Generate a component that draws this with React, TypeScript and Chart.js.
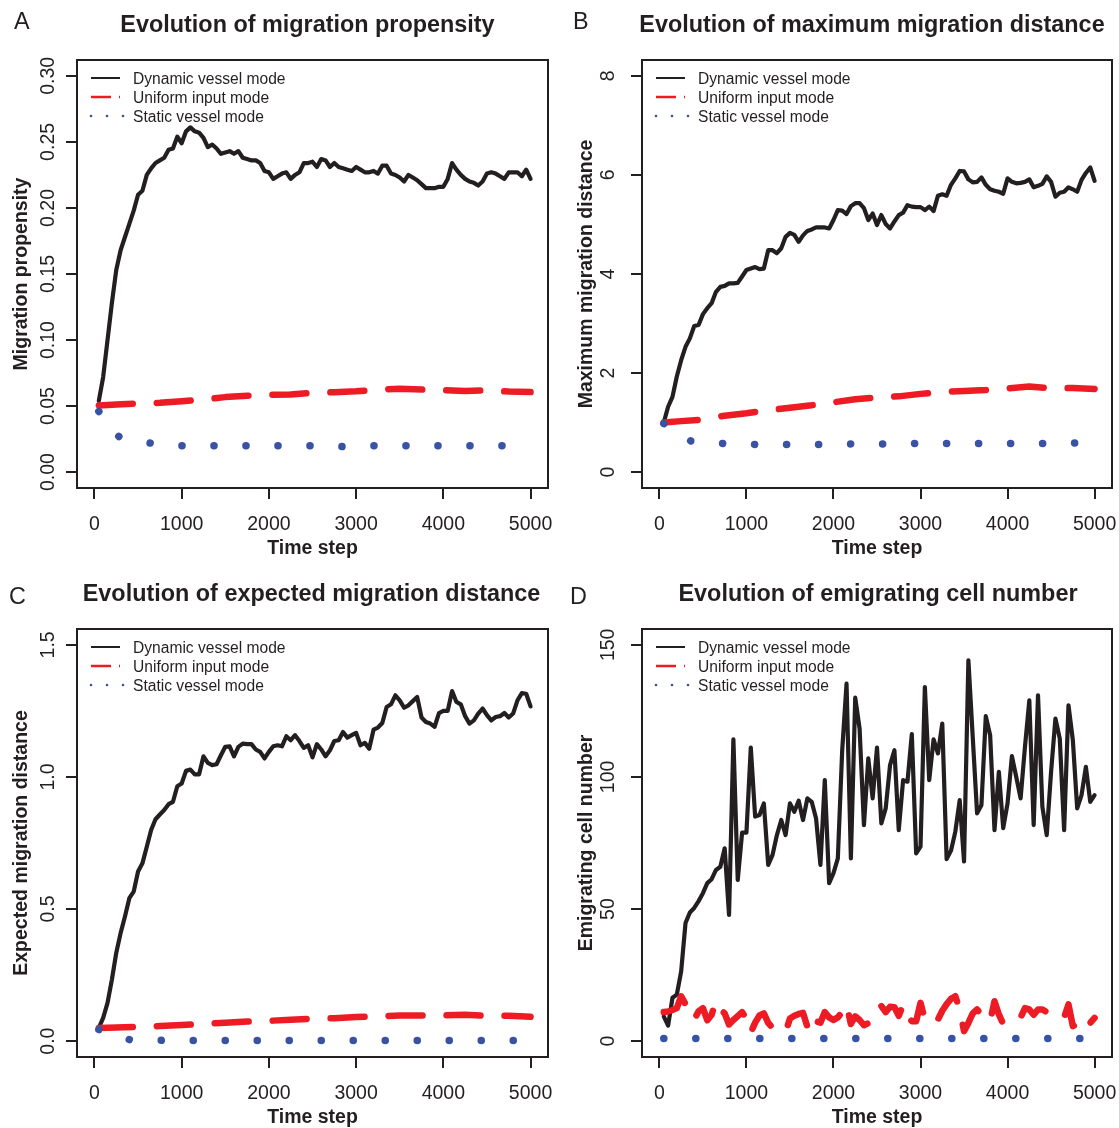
import React, { useEffect, useRef } from "react";
import { Chart, registerables } from "chart.js";

Chart.register(...registerables);

// ---------------- data ----------------
const TIME_STEPS = [50,100,150,200,250,300,350,400,450,500,550,600,650,700,750,800,850,900,950,1000,1050,1100,1150,1200,1250,1300,1350,1400,1450,1500,1550,1600,1650,1700,1750,1800,1850,1900,1950,2000,2050,2100,2150,2200,2250,2300,2350,2400,2450,2500,2550,2600,2650,2700,2750,2800,2850,2900,2950,3000,3050,3100,3150,3200,3250,3300,3350,3400,3450,3500,3550,3600,3650,3700,3750,3800,3850,3900,3950,4000,4050,4100,4150,4200,4250,4300,4350,4400,4450,4500,4550,4600,4650,4700,4750,4800,4850,4900,4950,5000];
const SPARSE_STEPS = [50,250,500,750,1000,1250,1500,1750,2000,2250,2500,2750,3000,3250,3500,3750,4000,4250,4500,4750,5000];
const X_TICKS = [0,1000,2000,3000,4000,5000];
const SERIES_LABELS = ["Dynamic vessel mode", "Uniform input mode", "Static vessel mode"];

// A: migration propensity
const propDynamic = [
  0.054,0.072,0.100,0.128,0.153,0.168,0.178,0.188,0.198,0.210,
  0.213,0.225,0.230,0.234,0.236,0.238,0.244,0.245,0.254,0.249,
  0.258,0.261,0.258,0.257,0.253,0.246,0.248,0.245,0.241,0.242,
  0.243,0.241,0.243,0.238,0.237,0.236,0.236,0.234,0.228,0.227,
  0.222,0.224,0.226,0.227,0.222,0.225,0.227,0.234,0.234,0.235,
  0.231,0.237,0.236,0.231,0.234,0.231,0.230,0.229,0.228,0.231,
  0.229,0.227,0.227,0.228,0.226,0.232,0.232,0.226,0.225,0.223,
  0.220,0.225,0.223,0.221,0.218,0.215,0.215,0.215,0.216,0.216,
  0.222,0.234,0.229,0.225,0.222,0.220,0.219,0.217,0.220,0.226,
  0.227,0.226,0.224,0.222,0.227,0.227,0.227,0.224,0.229,0.222];
const propUniform = [0.0505,0.0512,0.052,0.0525,0.0536,0.055,0.0568,0.0578,0.0585,0.0588,0.060,0.0605,0.0612,0.0625,0.0632,0.0625,0.062,0.0615,0.0619,0.061,0.0606];
const propStaticSteps = [50,280,640,1000,1500,2000,2500,2850,3200,4000,5000];
const propStatic = [0.046,0.027,0.022,0.020,0.020,0.020,0.020,0.0193,0.020,0.020,0.020];

// B: maximum migration distance
const maxDynamic = [
  1.00,1.32,1.52,1.93,2.26,2.53,2.70,2.95,2.97,3.19,
  3.31,3.41,3.64,3.74,3.76,3.81,3.81,3.82,3.95,4.08,
  4.11,4.14,4.10,4.11,4.48,4.48,4.42,4.52,4.75,4.83,
  4.79,4.65,4.78,4.87,4.90,4.94,4.94,4.94,4.92,5.09,
  5.29,5.28,5.21,5.37,5.43,5.43,5.33,5.09,5.22,4.99,
  5.19,5.01,4.92,5.06,5.19,5.24,5.39,5.36,5.35,5.35,
  5.29,5.36,5.27,5.58,5.61,5.58,5.80,5.93,6.08,6.07,
  5.91,5.85,5.86,5.95,5.80,5.71,5.68,5.66,5.62,5.93,
  5.86,5.83,5.84,5.86,5.91,5.75,5.78,5.82,5.97,5.86,
  5.56,5.64,5.66,5.75,5.71,5.66,5.90,6.04,6.15,5.88];
const maxUniform = [1.00,1.03,1.06,1.14,1.19,1.25,1.30,1.35,1.41,1.47,1.51,1.53,1.58,1.62,1.64,1.66,1.69,1.73,1.69,1.70,1.68];
const maxStaticSteps = [50,360,730,1100,1500,1850,2200,2600,2950,3300,3700,4050,4450,4800,5000];
const maxStatic = [0.98,0.63,0.58,0.56,0.56,0.56,0.57,0.57,0.58,0.58,0.58,0.58,0.58,0.59,0.59];

// C: expected migration distance
const expDynamic = [
  0.050,0.088,0.145,0.233,0.334,0.409,0.472,0.541,0.566,0.642,
  0.673,0.736,0.799,0.840,0.858,0.875,0.897,0.906,0.965,0.975,
  1.023,1.028,1.010,1.010,1.078,1.053,1.045,1.048,1.082,1.114,
  1.116,1.078,1.114,1.126,1.124,1.124,1.104,1.095,1.070,1.095,
  1.116,1.120,1.116,1.154,1.139,1.158,1.136,1.110,1.120,1.074,
  1.124,1.104,1.078,1.101,1.136,1.139,1.170,1.149,1.158,1.167,
  1.120,1.129,1.107,1.179,1.187,1.204,1.265,1.275,1.309,1.290,
  1.262,1.271,1.287,1.303,1.225,1.208,1.202,1.190,1.242,1.250,
  1.250,1.325,1.284,1.275,1.230,1.202,1.214,1.240,1.259,1.234,
  1.214,1.227,1.230,1.242,1.225,1.240,1.290,1.317,1.315,1.267];
const expUniform = [0.050,0.052,0.054,0.057,0.061,0.065,0.070,0.074,0.077,0.081,0.085,0.087,0.091,0.094,0.097,0.097,0.098,0.100,0.096,0.096,0.092];
const expStaticSteps = [50,400,750,1100,2000,3000,4000,5000];
const expStatic = [0.044,0.006,0.003,0.002,0.002,0.002,0.002,0.002];

// D: emigrating cell number
const emiDynamic = [
  9.4,5.9,16.4,17.6,26.4,44.7,48.7,50.4,53.0,56.0,
  59.8,61.3,64.8,66.0,73.0,47.8,114.2,61.0,78.9,78.9,
  111.1,85.0,85.6,90.0,66.7,70.5,78.0,83.7,78.0,90.0,
  86.8,91.0,83.7,91.9,90.6,84.3,66.7,98.8,59.8,63.6,
  69.2,110.0,135.3,69.2,130.0,118.3,81.8,107.0,91.9,111.1,
  82.4,88.1,104.5,110.1,79.9,98.8,98.2,116.2,71.1,73.6,
  134.0,98.8,114.2,108.9,120.2,68.9,72.1,79.3,91.2,68.0,
  144.1,115.1,86.2,89.4,123.0,115.8,79.9,101.9,80.6,90.0,
  107.9,100.0,91.9,111.4,129.0,81.8,130.9,88.7,78.0,101.9,
  122.1,114.5,79.9,127.1,114.0,88.1,93.1,103.8,90.6,93.1];
const emiUniform = [
  11.0,11.2,11.8,12.5,17.0,14.0,10.0,8.2,11.3,12.5,
  7.9,10.0,15.1,12.0,10.5,6.3,8.0,9.5,11.0,8.5,
  3.2,7.0,9.7,10.5,6.9,5.0,4.4,4.0,3.5,8.6,
  9.6,10.3,10.7,5.5,10.0,7.5,7.0,11.0,9.0,8.0,
  9.0,11.0,13.9,6.5,9.4,8.0,6.0,6.8,11.3,12.4,
  13.3,11.0,13.0,12.8,9.6,13.8,10.0,7.5,7.5,14.5,
  8.2,9.0,7.5,8.2,11.5,14.0,16.0,17.0,12.0,3.8,
  6.9,10.5,12.0,10.0,9.0,7.5,15.1,10.1,6.5,7.0,
  8.2,8.5,9.0,12.5,12.0,10.0,12.0,12.0,11.0,10.8,
  9.8,8.5,9.0,13.9,5.7,6.5,7.5,9.4,6.9,8.8];
const emiStaticSteps = [50,1000,2000,3000,4000,5000];
const emiStatic = [1,1,1,1,1,1];

// y axis ticks
const propTicks = [0,0.05,0.10,0.15,0.20,0.25,0.30];
const maxTicks = [0,2,4,6,8];
const expTicks = [0,0.5,1.0,1.5];
const emiTicks = [0,50,100,150];

// ---------------- styling ----------------
const FONT = '"Liberation Sans", Arial, Helvetica, sans-serif';
const INK = "#231f20";
const BLACK = "#231f20";
const RED = "#ed1c24";
const BLUE = "#3953a4";
const BASE = 19.5;

const pts = (xs: number[], ys: number[]) => xs.map((x, i) => ({ x, y: ys[i] }));

type Spec = {
  letter: string;
  title: string;
  yTitle: string;
  yMin: number;
  yMax: number;
  yTicks: number[];
  yDigits: number;
  dyn: number[];
  uniSteps: number[];
  uni: number[];
  staSteps: number[];
  sta: number[];
  box: { left: number; top: number; w: number; h: number };
  plot: { left: number; right: number; top: number; bottom: number };
  letterPos: [number, number];
  titleDx: number;
  yLabelGap: number;
};

const rPlotPlugin = {
  id: "rPlot",
  afterDraw(chart: any, _args: any, opts: any) {
    const spec: Spec = opts.spec;
    const { ctx, chartArea: a, scales } = chart;
    ctx.save();
    // box
    ctx.strokeStyle = INK;
    ctx.lineWidth = 2;
    ctx.strokeRect(a.left, a.top, a.right - a.left, a.bottom - a.top);
    ctx.fillStyle = INK;
    // y tick labels (rotated, like R)
    ctx.font = `${BASE}px ${FONT}`;
    const ys = scales.y;
    for (const t of ys.ticks) {
      const py = ys.getPixelForValue(t.value);
      ctx.save();
      ctx.translate(a.left - spec.yLabelGap, py);
      ctx.rotate(-Math.PI / 2);
      ctx.textAlign = "center";
      ctx.textBaseline = "alphabetic";
      ctx.fillText(Number(t.value).toFixed(spec.yDigits), 0, 0);
      ctx.restore();
    }
    // x tick labels
    const xs = scales.x;
    ctx.textAlign = "center";
    ctx.textBaseline = "alphabetic";
    for (const t of xs.ticks) {
      ctx.fillText(String(t.value), xs.getPixelForValue(t.value), a.bottom + 42);
    }
    // axis titles
    ctx.font = `bold ${BASE}px ${FONT}`;
    ctx.fillText("Time step", (a.left + a.right) / 2, a.bottom + 66);
    ctx.save();
    ctx.translate(a.left - 50, (a.top + a.bottom) / 2);
    ctx.rotate(-Math.PI / 2);
    ctx.fillText(spec.yTitle, 0, 0);
    ctx.restore();
    // main title
    ctx.font = `bold ${BASE * 1.2}px ${FONT}`;
    ctx.fillText(spec.title, (a.left + a.right) / 2 + spec.titleDx, a.top - 28);
    // panel letter
    ctx.font = `${BASE * 1.2}px ${FONT}`;
    ctx.textAlign = "left";
    ctx.fillText(spec.letter, spec.letterPos[0], spec.letterPos[1]);
    // legend
    const ds = chart.data.datasets;
    const lx0 = a.left + 14;
    const lx1 = a.left + 43;
    ctx.font = `${BASE * 0.8}px ${FONT}`;
    for (let i = 0; i < 3; i++) {
      const cy = a.top + 18 + i * 19;
      ctx.save();
      ctx.strokeStyle = ds[i].borderColor;
      ctx.fillStyle = ds[i].borderColor;
      if (i === 0) {
        ctx.lineWidth = 2;
        ctx.beginPath();
        ctx.moveTo(lx0, cy);
        ctx.lineTo(lx1, cy);
        ctx.stroke();
      } else if (i === 1) {
        ctx.lineWidth = 2.5;
        ctx.setLineDash([20, 8]);
        ctx.beginPath();
        ctx.moveTo(lx0, cy);
        ctx.lineTo(lx1, cy);
        ctx.stroke();
      } else {
        for (const dx of [0, 16, 32]) {
          ctx.beginPath();
          ctx.arc(lx0 + dx, cy, 1.3, 0, Math.PI * 2);
          ctx.fill();
        }
      }
      ctx.restore();
      ctx.fillStyle = INK;
      ctx.fillText(ds[i].label, a.left + 56, cy + 5.5);
    }
    ctx.restore();
  },
};

function makeConfig(spec: Spec): any {
  const { box, plot } = spec;
  return {
    type: "line",
    data: {
      datasets: [
        {
          label: SERIES_LABELS[0],
          data: pts(TIME_STEPS, spec.dyn),
          borderColor: BLACK,
          borderWidth: 4.2,
          borderJoinStyle: "round",
          borderCapStyle: "round",
          pointRadius: 0,
          tension: 0,
          order: 3,
        },
        {
          label: SERIES_LABELS[1],
          data: pts(spec.uniSteps, spec.uni),
          borderColor: RED,
          borderWidth: 6.5,
          borderDash: [34, 24],
          borderJoinStyle: "round",
          borderCapStyle: "round",
          pointRadius: 0,
          tension: 0,
          order: 2,
        },
        {
          label: SERIES_LABELS[2],
          data: pts(spec.staSteps, spec.sta),
          borderColor: BLUE,
          borderWidth: 7.5,
          borderDash: [0.1, 31.9],
          borderJoinStyle: "round",
          borderCapStyle: "round",
          pointRadius: 0,
          tension: 0,
          order: 1,
        },
      ],
    },
    options: {
      responsive: false,
      animation: false,
      devicePixelRatio: 1,
      layout: {
        padding: { left: 0, top: plot.top, right: box.w - plot.right, bottom: 0 },
      },
      plugins: {
        legend: { display: false },
        tooltip: { enabled: false },
        title: { display: false },
        rPlot: { spec },
      },
      scales: {
        x: {
          type: "linear",
          min: -200,
          max: 5200,
          afterBuildTicks: (s: any) => {
            s.ticks = X_TICKS.map((v) => ({ value: v }));
          },
          afterFit: (s: any) => {
            s.height = box.h - plot.bottom;
          },
          grid: { drawOnChartArea: false, drawTicks: true, tickLength: 11, color: INK, lineWidth: 2 },
          border: { display: false },
          ticks: { display: false, autoSkip: false },
        },
        y: {
          type: "linear",
          min: spec.yMin,
          max: spec.yMax,
          afterBuildTicks: (s: any) => {
            s.ticks = spec.yTicks.map((v) => ({ value: v }));
          },
          afterFit: (s: any) => {
            s.width = plot.left;
          },
          grid: { drawOnChartArea: false, drawTicks: true, tickLength: 11, color: INK, lineWidth: 2 },
          border: { display: false },
          ticks: { display: false, autoSkip: false },
        },
      },
    },
    plugins: [rPlotPlugin],
  };
}

const PANELS: Spec[] = [
  {
    letter: "A",
    title: "Evolution of migration propensity",
    yTitle: "Migration propensity",
    yMin: -0.012, yMax: 0.312, yTicks: propTicks, yDigits: 2,
    dyn: propDynamic, uniSteps: SPARSE_STEPS, uni: propUniform, staSteps: propStaticSteps, sta: propStatic,
    box: { left: 0, top: 0, w: 560, h: 569 },
    plot: { left: 77, right: 548, top: 60, bottom: 488 },
    letterPos: [14, 29],
    titleDx: -5,
    yLabelGap: 23,
  },
  {
    letter: "B",
    title: "Evolution of maximum migration distance",
    yTitle: "Maximum migration distance",
    yMin: -0.32, yMax: 8.32, yTicks: maxTicks, yDigits: 0,
    dyn: maxDynamic, uniSteps: SPARSE_STEPS, uni: maxUniform, staSteps: maxStaticSteps, sta: maxStatic,
    box: { left: 560, top: 0, w: 559, h: 569 },
    plot: { left: 82, right: 552, top: 60, bottom: 488 },
    letterPos: [13, 29],
    titleDx: -5,
    yLabelGap: 28,
  },
  {
    letter: "C",
    title: "Evolution of expected migration distance",
    yTitle: "Expected migration distance",
    yMin: -0.06, yMax: 1.56, yTicks: expTicks, yDigits: 1,
    dyn: expDynamic, uniSteps: SPARSE_STEPS, uni: expUniform, staSteps: expStaticSteps, sta: expStatic,
    box: { left: 0, top: 569, w: 560, h: 559 },
    plot: { left: 77, right: 548, top: 60, bottom: 488 },
    letterPos: [9, 35],
    titleDx: -1,
    yLabelGap: 23,
  },
  {
    letter: "D",
    title: "Evolution of emigrating cell number",
    yTitle: "Emigrating cell number",
    yMin: -6, yMax: 156, yTicks: emiTicks, yDigits: 0,
    dyn: emiDynamic, uniSteps: TIME_STEPS, uni: emiUniform, staSteps: emiStaticSteps, sta: emiStatic,
    box: { left: 560, top: 569, w: 559, h: 559 },
    plot: { left: 82, right: 552, top: 60, bottom: 488 },
    letterPos: [10, 35],
    titleDx: 1,
    yLabelGap: 28,
  },
];

function Panel({ spec }: { spec: Spec }) {
  const ref = useRef<HTMLCanvasElement>(null);
  useEffect(() => {
    const chart = new Chart(ref.current as HTMLCanvasElement, makeConfig(spec));
    return () => chart.destroy();
  }, [spec]);
  return (
    <canvas
      ref={ref}
      width={spec.box.w}
      height={spec.box.h}
      style={{ position: "absolute", left: spec.box.left, top: spec.box.top, width: spec.box.w, height: spec.box.h }}
    />
  );
}

export default function App() {
  useEffect(() => {
    document.body.style.margin = "0";
  }, []);
  return (
    <div style={{ position: "relative", width: 1119, height: 1128, background: "#ffffff", overflow: "hidden" }}>
      {PANELS.map((p) => (
        <Panel key={p.letter} spec={p} />
      ))}
    </div>
  );
}
